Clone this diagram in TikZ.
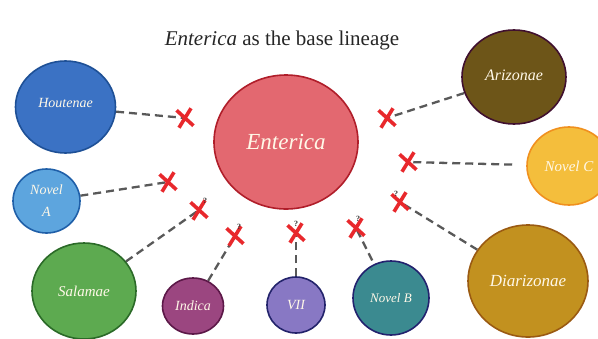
\documentclass[tikz,border=0pt]{standalone}
\usepackage{fontspec}
\setmainfont{Liberation Serif}
\usetikzlibrary{shapes.geometric,shapes.misc}
\definecolor{entF}{HTML}{E36870}\definecolor{entD}{HTML}{B01E2A}
\definecolor{houF}{HTML}{3B72C4}\definecolor{houD}{HTML}{1E5096}
\definecolor{naF}{HTML}{5DA5DE}\definecolor{naD}{HTML}{1F5FA8}
\definecolor{salF}{HTML}{5DAA50}\definecolor{salD}{HTML}{2B6A28}
\definecolor{indF}{HTML}{9B4680}\definecolor{indD}{HTML}{5C1848}
\definecolor{sevF}{HTML}{8878C4}\definecolor{sevD}{HTML}{23236B}
\definecolor{nbF}{HTML}{3B8A90}\definecolor{nbD}{HTML}{22226E}
\definecolor{diaF}{HTML}{C2911F}\definecolor{diaD}{HTML}{9A5A12}
\definecolor{ariF}{HTML}{6D5518}\definecolor{ariD}{HTML}{40102F}
\definecolor{ncF}{HTML}{F4BE3C}\definecolor{ncD}{HTML}{F0901E}
\definecolor{lbl}{HTML}{FFF8E8}
\definecolor{xred}{HTML}{E8282C}
\pgfdeclarelayer{bg}
\pgfsetlayers{bg,main}
\begin{document}
\begin{tikzpicture}[x=1pt,y=-1pt,
  blob/.style={ellipse, draw, line width=1.6pt, inner sep=0pt, text=lbl, align=center,
    font=\itshape\fontsize{14}{16}\selectfont},
  link/.style={draw=black!65, line width=2.3pt, dash pattern=on 8pt off 5pt},
  xmark/.style={cross out, draw=xred, line width=3.6pt, minimum width=11pt, minimum height=14pt, inner sep=0pt, rotate=8},
  qm/.style={font=\bfseries\fontsize{8}{8}\selectfont, text=black!80, inner sep=0pt}]
\useasboundingbox (0,0) rectangle (598,338);

\node (title) at (282,40) {\fontsize{21}{24}\selectfont\color{black!85}\textit{Enterica} as the base lineage};

\node[blob, fill=entF, draw=entD, minimum width=144pt, minimum height=134pt, font=\itshape\fontsize{23}{26}\selectfont] (ent) at (286,142) {Enterica};
\node[blob, fill=houF, draw=houD, minimum width=100pt, minimum height=92pt] (hou) at (65.5,107) {\raisebox{9pt}{Houtenae}};
\node[blob, fill=naF, draw=naD, minimum width=67pt, minimum height=64pt, font=\itshape\fontsize{14}{22}\selectfont] (na) at (46.5,201) {Novel\\A};
\node[blob, fill=salF, draw=salD, minimum width=104pt, minimum height=96pt, font=\itshape\fontsize{15}{17}\selectfont] (sal) at (84,291) {Salamae};
\node[blob, fill=indF, draw=indD, minimum width=61pt, minimum height=56pt] (ind) at (193,306) {Indica};
\node[blob, fill=sevF, draw=sevD, minimum width=58pt, minimum height=56pt] (sev) at (296,305) {VII};
\node[blob, fill=nbF, draw=nbD, minimum width=76pt, minimum height=74pt, font=\itshape\fontsize{13}{15}\selectfont] (nb) at (391,298) {Novel B};
\node[blob, fill=diaF, draw=diaD, minimum width=120pt, minimum height=112pt, font=\itshape\fontsize{17}{19}\selectfont] (dia) at (528,281) {Diarizonae};
\node[blob, fill=ariF, draw=ariD, minimum width=104pt, minimum height=94pt, font=\itshape\fontsize{16}{18}\selectfont] (ari) at (514,77) {\raisebox{4pt}{Arizonae}};
\node[blob, fill=ncF, draw=ncD, minimum width=84pt, minimum height=78pt, font=\itshape\fontsize{15}{17}\selectfont] (nc) at (569,166) {Novel C};

\node[xmark] (x1) at (185,118) {};
\node[xmark] (x2) at (168,182) {};
\node[xmark] (x3) at (199,210) {};
\node[xmark] (x4) at (235,236) {};
\node[xmark] (x5) at (296,233) {};
\node[xmark] (x6) at (356,228) {};
\node[xmark] (x7) at (400,202) {};
\node[xmark] (x8) at (408,162) {};
\node[xmark] (x9) at (387,118) {};

\node[qm] (q3) at (205,201) {?};
\node[qm] (q4) at (239,227) {?};
\node[qm] (q5) at (296,224) {?};
\node[qm] (q6) at (358,219) {?};
\node[qm] (q7) at (396,194) {?};

\begin{pgfonlayer}{bg}
\draw[link] (hou) -- (x1.center);
\draw[link] (na) -- (x2.center);
\draw[link] (sal) -- (x3.center);
\draw[link] (ind) -- (x4.center);
\draw[link] (sev) -- (x5.center);
\draw[link, shorten <=4pt] (nb) -- (x6.center);
\draw[link] (dia) -- (x7.center);
\draw[link, shorten <=14pt] (nc) -- (x8.center);
\draw[link] (ari) -- (x9.center);
\end{pgfonlayer}
\end{tikzpicture}
\end{document}
